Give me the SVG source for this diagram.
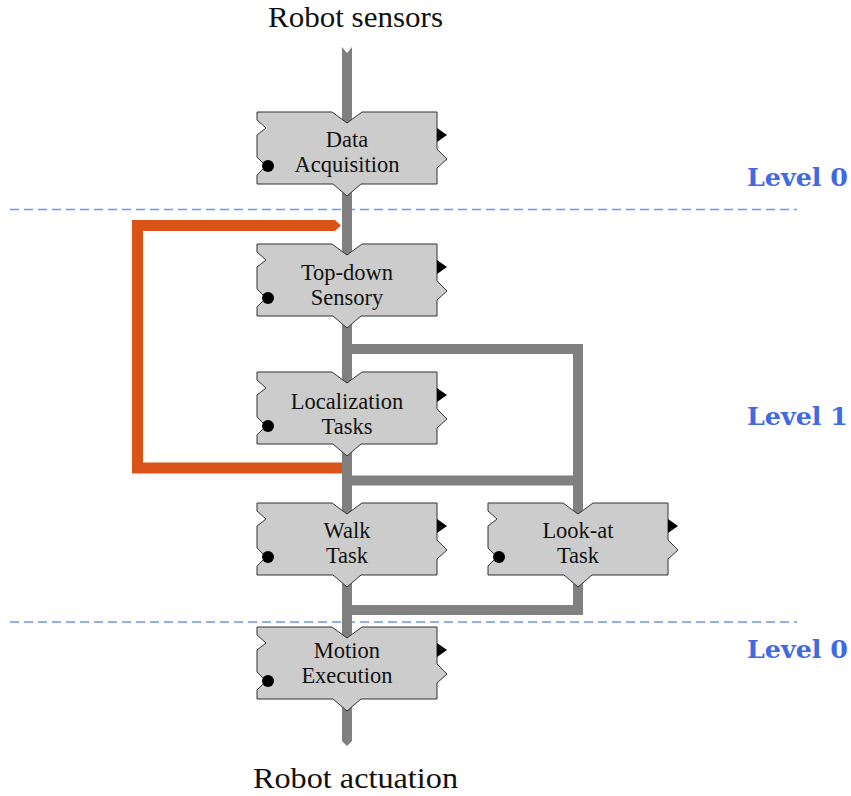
<svg xmlns="http://www.w3.org/2000/svg" xmlns:xlink="http://www.w3.org/1999/xlink" width="851" height="796" viewBox="0 0 851 796">
<style>
.lbl{font-family:"Liberation Serif","Times New Roman",serif;font-size:22.5px;fill:#111;text-anchor:middle}
.big{font-family:"Liberation Serif","Times New Roman",serif;font-size:30px;fill:#111;text-anchor:middle}
.lvl{font-family:"DejaVu Serif","Liberation Serif",serif;font-weight:bold;font-size:25px;fill:#4169E1}
.dash{stroke:#7394f0;stroke-width:1.6;stroke-dasharray:9 5;fill:none}
.pipe{stroke:#808080;stroke-width:10;fill:none;stroke-linejoin:miter}
.box{fill:#cccccc;stroke:#333;stroke-width:1}
</style>
<defs>
<g id="block">
<path class="box" d="M0,0 L75,0 L90,11 L105,0 L180,0 L180,37 L190,47 L180,56 L180,72 L104,72 L90,84 L76,72 L0,72 L0,63 L9,54 L0,45 L0,23 L9,16 L0,8 Z"/>
<path d="M180,16 L190,23 L180,30 Z" fill="#000"/>
<circle cx="11" cy="54" r="6" fill="#000"/>
</g>
</defs>
<rect x="0" y="0" width="851" height="796" fill="#fff"/>
<g id="levels">
<line class="dash" x1="10" y1="209.5" x2="797" y2="209.5"/>
<line class="dash" x1="10" y1="622" x2="797" y2="622"/>
<text class="lvl" x="747" y="186" textLength="101" lengthAdjust="spacingAndGlyphs">Level 0</text>
<text class="lvl" x="747" y="425" textLength="101" lengthAdjust="spacingAndGlyphs">Level 1</text>
<text class="lvl" x="747" y="658" textLength="101" lengthAdjust="spacingAndGlyphs">Level 0</text>
</g>
<g id="connectors">
<path d="M335,225.5 H137.5 V468 H347" stroke="#D95319" stroke-width="11" fill="none" stroke-linejoin="miter"/>
<polygon points="335,220 341,225.5 335,231" fill="#D95319"/>
<polygon points="342,47 347,53 352,47 352,741 347,746 342,741" fill="#808080"/>
<path class="pipe" d="M347,349 H578 V520"/>
<path class="pipe" d="M347,480.5 H578"/>
<path class="pipe" d="M578,560 V610 H347"/>
</g>
<g id="data-acquisition">
<use xlink:href="#block" href="#block" transform="translate(257,112)"/>
<text class="lbl" x="347" y="147">Data</text>
<text class="lbl" x="347" y="172">Acquisition</text>
</g>
<g id="top-down-sensory">
<use xlink:href="#block" href="#block" transform="translate(257,244)"/>
<text class="lbl" x="347" y="280">Top-down</text>
<text class="lbl" x="347" y="305">Sensory</text>
</g>
<g id="localization-tasks">
<use xlink:href="#block" href="#block" transform="translate(257,372)"/>
<text class="lbl" x="347" y="409">Localization</text>
<text class="lbl" x="347" y="434">Tasks</text>
</g>
<g id="walk-task">
<use xlink:href="#block" href="#block" transform="translate(257,503)"/>
<text class="lbl" x="347" y="538">Walk</text>
<text class="lbl" x="347" y="563">Task</text>
</g>
<g id="look-at-task">
<use xlink:href="#block" href="#block" transform="translate(488,503)"/>
<text class="lbl" x="578" y="538">Look-at</text>
<text class="lbl" x="578" y="563">Task</text>
</g>
<g id="motion-execution">
<use xlink:href="#block" href="#block" transform="translate(257,627)"/>
<text class="lbl" x="347" y="658">Motion</text>
<text class="lbl" x="347" y="683">Execution</text>
</g>
<g id="io-labels">
<text class="big" x="355.5" y="27" textLength="175" lengthAdjust="spacingAndGlyphs">Robot sensors</text>
<text class="big" x="355.5" y="788" textLength="205" lengthAdjust="spacingAndGlyphs">Robot actuation</text>
</g>
</svg>
